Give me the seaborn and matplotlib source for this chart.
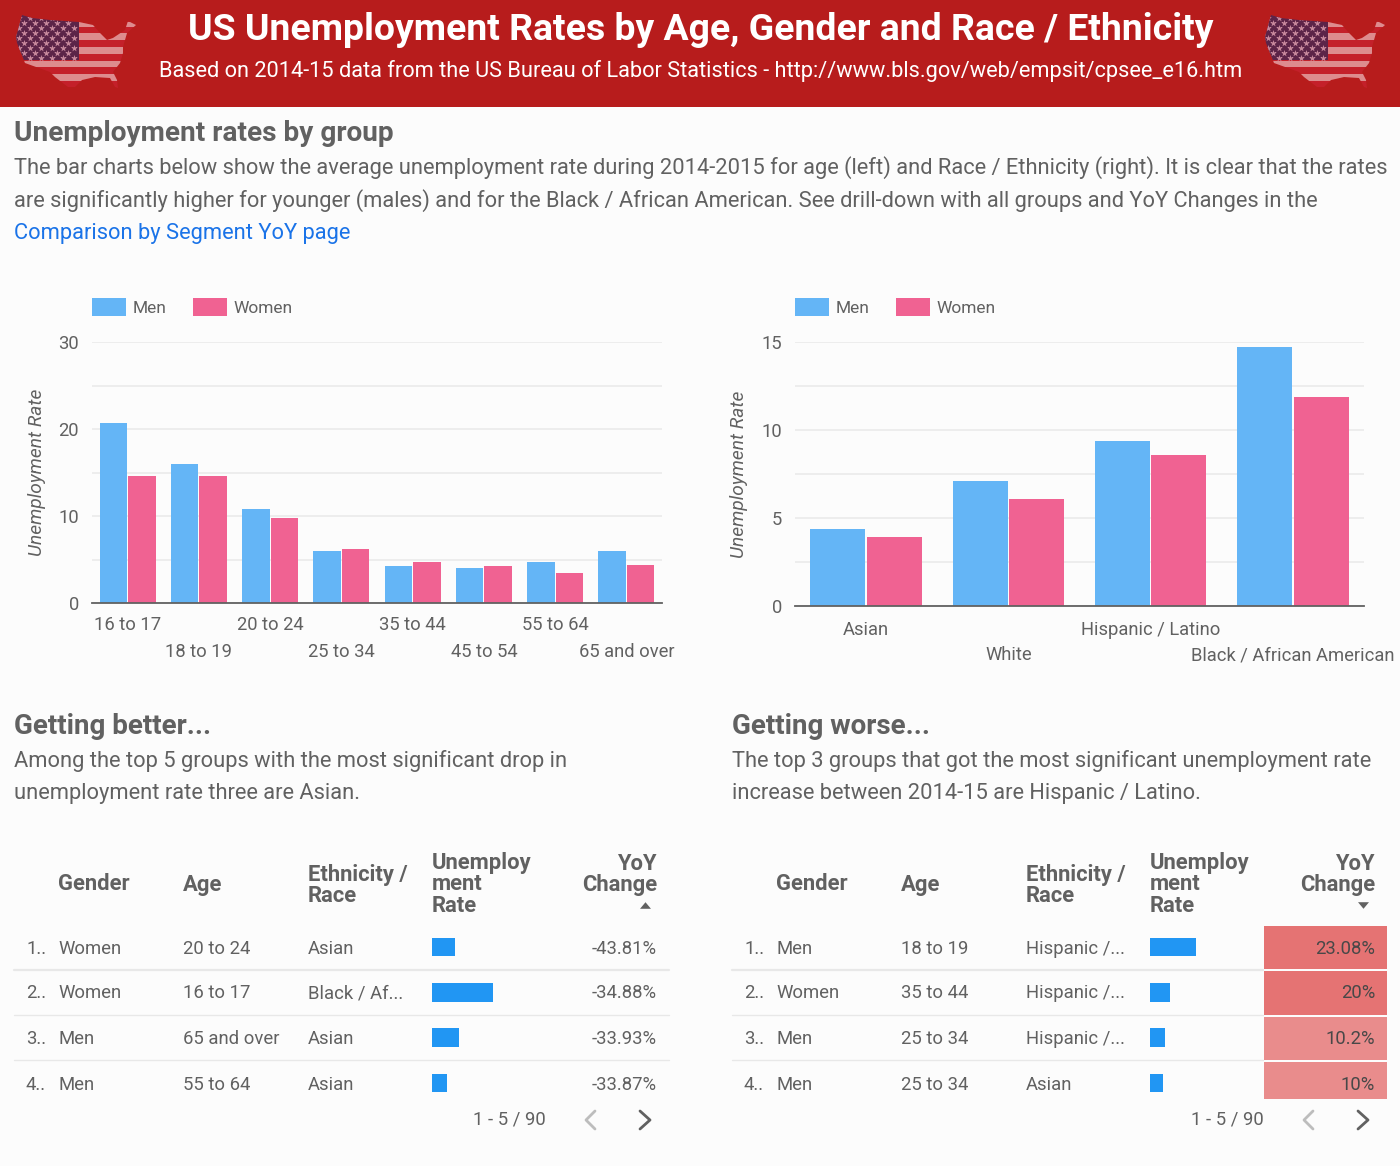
import numpy as np
import pandas as pd
import seaborn as sns
import matplotlib.pyplot as plt
from matplotlib.colors import LinearSegmentedColormap
from matplotlib.patches import Polygon, Rectangle

# chart values
ages = ["16 to 17", "18 to 19", "20 to 24", "25 to 34", "35 to 44", "45 to 54", "55 to 64", "65 and over"]
age_men = [20.7, 16.0, 10.8, 6.0, 4.2, 4.0, 4.7, 6.0]
age_women = [14.6, 14.6, 9.8, 6.2, 4.7, 4.2, 3.5, 4.4]
races = ["Asian", "White", "Hispanic / Latino", "Black / African American"]
race_men = [4.4, 7.1, 9.4, 14.7]
race_women = [3.9, 6.1, 8.6, 11.9]

# tables
better_gender = ["Women", "Women", "Men", "Men"]
better_age = ["20 to 24", "16 to 17", "65 and over", "55 to 64"]
better_race = ["Asian", "Black / Af...", "Asian", "Asian"]
better_rate = [9.2, 23.8, 10.4, 5.8]
better_yoy = ["-43.81%", "-34.88%", "-33.93%", "-33.87%"]

worse_gender = ["Men", "Women", "Men", "Men"]
worse_age = ["18 to 19", "35 to 44", "25 to 34", "25 to 34"]
worse_race = ["Hispanic /...", "Hispanic /...", "Hispanic /...", "Asian"]
worse_rate = [17.7, 7.7, 5.8, 5.0]
worse_yoy = [23.08, 20, 10.2, 10]
worse_yoy_txt = ["23.08%", "20%", "10.2%", "10%"]

W, H = 1400, 1166
BG = "#FCFCFC"
TXT = "#616161"
BLUE = "#64B5F6"
PINK = "#F06292"

sns.set_theme(style="white")
plt.rcParams["font.family"] = ["Roboto", "DejaVu Sans"]
plt.rcParams["axes.facecolor"] = "none"

fig = plt.figure(figsize=(14, 11.66), dpi=100, facecolor=BG)


def px_axes(x0, y0, x1, y1, **kw):
    return fig.add_axes([x0 / W, 1 - y1 / H, (x1 - x0) / W, (y1 - y0) / H], **kw)


# overlay in pixel coords for header, text and table
ov = px_axes(0, 0, W, H, zorder=5)
ov.set_xlim(0, W)
ov.set_ylim(H, 0)
ov.axis("off")


def txt(x, y, s, size=15.77, color=TXT, weight="normal", ha="left", **kw):
    ov.text(x, y + 1.5, s, fontsize=size, color=color, fontweight=weight, ha=ha, va="center", **kw)


def draw_flag(dx):
    # rough map shape with the stripes clipped to it
    outline = [(22, 15), (32, 18), (50, 20), (79, 22), (93, 25), (100, 33), (107, 40), (113, 38),
               (125, 30), (128, 21), (136, 25), (127, 33), (123, 47), (123, 53), (120, 63),
               (113, 72), (117, 80), (118, 88), (115, 87), (110, 78), (95, 77), (82, 80),
               (75, 87), (68, 87), (55, 77), (50, 72), (25, 63), (17, 43), (16, 37)]
    shape = Polygon([(x + dx, y) for x, y in outline], closed=True, fc="#C4202A", ec="none", zorder=2)
    ov.add_patch(shape)
    for y0, y1 in [(22, 27), (33, 40), (47, 54), (61, 67), (74, 81)]:
        r = Rectangle((dx + 10, y0), 130, y1 - y0, fc="#DD8C8E", ec="none", zorder=3)
        ov.add_patch(r)
        r.set_clip_path(shape)
    canton = Rectangle((dx + 10, 10), 69, 50, fc="#5C2448", ec="none", zorder=4)
    ov.add_patch(canton)
    canton.set_clip_path(shape)
    sx, sy = [], []
    for i, y in enumerate(range(18, 60, 5)):
        for x in range(19 + (i % 2) * 5, 78, 11):
            sx.append(x + dx)
            sy.append(y)
    stars = ov.scatter(sx, sy, marker="*", s=26, c="#C98A9E", linewidths=0, zorder=5)
    stars.set_clip_path(shape)


# header band
ov.add_patch(Rectangle((0, 0), W, 107, fc="#B71C1C", ec="none", zorder=1))
draw_flag(0)
draw_flag(1249)
txt(701, 29, "US Unemployment Rates by Age, Gender and Race / Ethnicity", size=26.95,
    color="white", weight="bold", ha="center")
txt(701, 69, "Based on 2014-15 data from the US Bureau of Labor Statistics - http://www.bls.gov/web/empsit/cpsee_e16.htm",
    size=15.65, color="white", ha="center")

# intro text
txt(14, 132, "Unemployment rates by group", size=20.2, weight="bold")
txt(14, 166, "The bar charts below show the average unemployment rate during 2014-2015 for age (left) and Race / Ethnicity (right). It is clear that the rates")
txt(14, 199, "are significantly higher for younger (males) and for the Black / African American. See drill-down with all groups and YoY Changes in the")
txt(14, 232, "Comparison by Segment YoY page", color="#1A73E8")

txt(14, 725, "Getting better...", size=20, weight="bold")
txt(14, 760, "Among the top 5 groups with the most significant drop in")
txt(14, 792.5, "unemployment rate three are Asian.")
txt(732, 725, "Getting worse...", size=20, weight="bold")
txt(732, 760, "The top 3 groups that got the most significant unemployment rate")
txt(732, 792.5, "increase between 2014-15 are Hispanic / Latino.")


def bar_chart(box, cats, men, women, ymax, step, label_step, ylab_x, pads):
    ax = px_axes(*box)
    df = pd.DataFrame({"cat": cats * 2, "rate": men + women,
                       "sex": ["Men"] * len(cats) + ["Women"] * len(cats)})
    sns.barplot(data=df, x="cat", y="rate", hue="sex", palette=[BLUE, PINK], saturation=1,
                width=0.795, gap=0.03, linewidth=0, ax=ax, errorbar=None, zorder=3)
    ax.set_xlim(-0.5, len(cats) - 0.5)
    ax.set_ylim(0, ymax)
    ax.set_yticks(np.arange(0, ymax + 0.01, step))
    ax.set_yticklabels([f"{v:g}" if v % label_step == 0 else "" for v in ax.get_yticks()])
    ax.grid(axis="y", color="#EBEBEB", lw=1.2, zorder=0)
    ax.set_axisbelow(True)
    for s in ["top", "right", "left"]:
        ax.spines[s].set_visible(False)
    ax.spines["bottom"].set_color("#616161")
    ax.spines["bottom"].set_linewidth(1.3)
    ax.spines["bottom"].set_zorder(6)
    ax.set_xticks(range(len(cats)))
    ax.set_xticklabels(cats)
    ax.tick_params(axis="x", length=0, labelsize=13.2, labelcolor=TXT)
    ax.tick_params(axis="y", length=0, pad=9.5, labelsize=13.2, labelcolor=TXT)
    # staggered category labels, every second one on a lower row
    for i, tick in enumerate(ax.xaxis.get_major_ticks()):
        tick.set_pad(pads[i % 2])
    ax.set_xlabel("")
    ax.set_ylabel("")
    txt(ylab_x, (box[1] + box[3]) / 2 - 1.5, "Unemployment Rate", size=13.75, style="italic", rotation=90, ha="center")
    top = 1 + 26 / (box[3] - box[1])
    ax.legend(loc="lower left", bbox_to_anchor=(0, top), ncol=2, frameon=False, borderaxespad=0,
              borderpad=0, handlelength=1.95, handleheight=1.2, handletextpad=0.38,
              columnspacing=1.55, fontsize=12.5, labelcolor=TXT)
    return ax


bar_chart((92, 342, 662, 603), ages, age_men, age_women, 30, 5, 10, 37, (9, 28.5))
bar_chart((795, 342, 1364, 606), races, race_men, race_women, 15, 2.5, 5, 739, (10.5, 29))

# flattened sort arrows
SORT_UP = [(-1, 0.6), (1, 0.6), (0, -0.6)]
SORT_DOWN = [(-1, -0.6), (1, -0.6), (0, 0.6)]


def table(dx, genders, age_vals, race_vals, rates, yoy_txt, sort_marker, line_end, yoy_color):
    row_y = [947, 992, 1038, 1083]
    hs = 15.8
    txt(58 + dx, 883, "Gender", size=hs, weight="bold")
    txt(183 + dx, 883, "Age", size=hs, weight="bold")
    txt(308 + dx, 873, "Ethnicity /", size=hs, weight="bold")
    txt(308 + dx, 894, "Race", size=hs, weight="bold")
    txt(432 + dx, 862, "Unemploy", size=hs, weight="bold")
    txt(432 + dx, 883, "ment", size=hs, weight="bold")
    txt(432 + dx, 905, "Rate", size=hs, weight="bold")
    txt(657 + dx, 862, "YoY", size=hs, weight="bold", ha="right")
    txt(657 + dx, 883, "Change", size=hs, weight="bold", ha="right")
    # y axis of the overlay is flipped, so the marker is given upside down in pixel terms
    ov.scatter([644.5 + dx], [905], marker=sort_marker, s=62, c=TXT, linewidths=0, zorder=6)
    for i, y in enumerate(row_y):
        txt(26 + dx, y, f"{i + 1}..", size=13.3)
        txt(58 + dx, y, genders[i], size=13.3)
        txt(183 + dx, y, age_vals[i], size=13.3)
        txt(308 + dx, y, race_vals[i], size=13.3)
        txt(657 + dx, y, yoy_txt[i], size=13.3, ha="right", color=yoy_color)
    for y, lw in [(970, 1.6), (1015, 1.0), (1060, 1.0)]:
        ov.plot([14 + dx, line_end], [y, y], color="#E8E8E8", lw=lw, zorder=1)

    # in-cell bars
    bax = px_axes(431.5 + dx, 924.4, 531.5 + dx, 1105.6)
    sns.barplot(x=rates, y=[str(i) for i in range(4)], orient="h", color="#2196F3", saturation=1,
                width=0.41, linewidth=0, ax=bax, errorbar=None)
    bax.set_xlim(0, 100 / 2.6)
    bax.axis("off")

    # pager
    txt(546 + dx, 1117.5, "1 - 5 / 90", size=13.3, ha="right")
    ov.plot(np.array([595, 586, 595]) + dx, [1111, 1120, 1129], color="#BDBDBD", lw=2, zorder=6)
    ov.plot(np.array([640, 650, 640]) + dx, [1111, 1120, 1129], color="#616161", lw=2, zorder=6)


# heat cells behind the right table's last column
hax = px_axes(1262.5, 925, 1387.5, 1099)
cmap = LinearSegmentedColormap.from_list("heat", ["#E98C8C", "#E57373"])
sns.heatmap(np.array(worse_yoy).reshape(-1, 1), vmin=10.2, vmax=20, cmap=cmap, cbar=False,
            linewidths=1.2, linecolor=BG, xticklabels=False, yticklabels=False, ax=hax)
hax.set_ylim(3.84, 0)

table(0, better_gender, better_age, better_race, better_rate, better_yoy, SORT_DOWN, 669, TXT)
table(718, worse_gender, worse_age, worse_race, worse_rate, worse_yoy_txt, SORT_UP, 1263, "#484848")

fig.savefig("out.png", dpi=100, facecolor=BG)
